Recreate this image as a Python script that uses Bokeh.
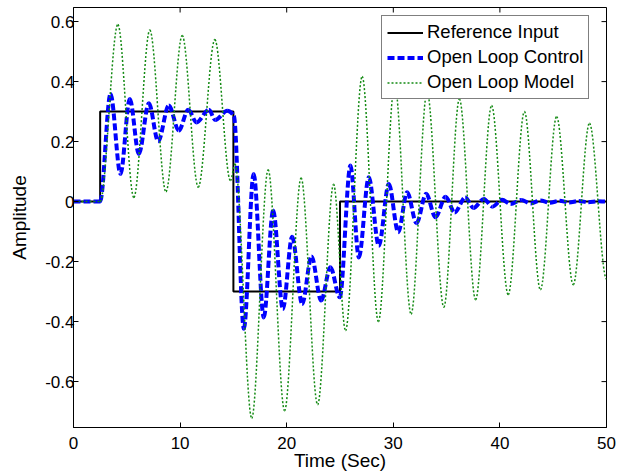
import numpy as np
from bokeh.plotting import figure
from bokeh.models import Range1d, FixedTicker, Legend, LegendItem, ColumnDataSource
from bokeh.embed import file_html
from bokeh.resources import INLINE

# ---------------- data ----------------
x_ticks = [0, 10, 20, 30, 40, 50]
x_tick_labels = ["0", "10", "20", "30", "40", "50"]
y_ticks = [-0.6, -0.4, -0.2, 0, 0.2, 0.4, 0.6]
y_tick_labels = ["-0.6", "-0.4", "-0.2", "0", "0.2", "0.4", "0.6"]

# Reference input (step levels, held from each time onward)
ref_t = [0, 2.5, 15, 25, 50]
ref_y = [0, 0.3, -0.3, 0, 0]

# Open Loop Control: turning points
ctrl_t = [0, 2.5, 3.47, 4.41, 5.28, 6.13, 7.07, 7.94, 8.94, 9.88, 10.76, 11.54,
          12.7, 13.3, 14.42, 15.05, 15.98, 16.9, 17.85, 18.73, 19.64, 20.51,
          21.45, 22.33, 23.23, 24.1, 24.98, 25.98, 26.77, 27.7, 28.64, 29.58,
          30.46, 31.3, 32.18, 33.08, 33.96, 34.9, 35.76, 36.75, 37.52, 38.5,
          39.3, 40.2, 41.0, 42.0, 42.9, 43.8, 44.7, 45.6, 46.5, 47.4, 48.3,
          49.2, 50]
ctrl_y = [0, 0, 0.359, 0.092, 0.342, 0.159, 0.328, 0.201, 0.320, 0.237, 0.306,
          0.264, 0.306, 0.272, 0.303, 0.285, -0.424, 0.092, -0.386, -0.03,
          -0.358, -0.117, -0.341, -0.183, -0.33, -0.219, -0.319, 0.12, -0.186,
          0.081, -0.147, 0.059, -0.102, 0.031, -0.072, 0.026, -0.052, 0.016,
          -0.036, 0.014, -0.021, 0.009, -0.017, 0.006, -0.008, 0.005, -0.006,
          0.004, -0.004, 0.003, -0.003, 0.002, -0.002, 0.001, 0]

# Open Loop Model: turning points
model_t = [0, 2.5, 4.16, 5.66, 7.16, 8.67, 10.2, 11.7, 13.26, 14.72, 15.15,
           16.72, 18.26, 19.8, 21.35, 22.9, 24.4, 25.52, 27.08, 28.6, 30.13,
           31.67, 33.17, 34.74, 36.2, 37.72, 39.22, 40.78, 42.3, 43.8, 45.32,
           46.88, 48.4, 50]
model_y = [0, 0, 0.59, 0.014, 0.572, 0.033, 0.554, 0.048, 0.54, 0.07, 0.125,
           -0.722, 0.106, -0.697, 0.079, -0.677, 0.058, -0.43, 0.417, -0.40,
           0.392, -0.375, 0.366, -0.352, 0.342, -0.327, 0.32, -0.31, 0.30,
           -0.294, 0.283, -0.277, 0.261, -0.258]

FONT = "Liberation Sans"
X0, X1 = 0, 50
Y0, Y1 = -0.753, 0.647
W, H = 636, 476
BL, BR, BT, BB = 73, 30, 7, 49          # borders -> frame 73..606 x 7..427
FW, FH = W - BL - BR, H - BT - BB


def bezier_source(t, y):
    """Smooth Bezier segments through the read turning points (flat tangents at extrema)."""
    t = np.asarray(t, float)
    y = np.asarray(y, float)
    n = len(t)
    d = np.diff(y) / np.diff(t)
    m = np.zeros(n)
    for i in range(1, n - 1):
        if d[i - 1] * d[i] > 0:
            m[i] = 2 * d[i - 1] * d[i] / (d[i - 1] + d[i])
    dt = np.diff(t)
    return ColumnDataSource(dict(
        x0=t[:-1], y0=y[:-1], x1=t[1:], y1=y[1:],
        cx0=t[:-1] + dt / 3, cy0=y[:-1] + m[:-1] * dt / 3,
        cx1=t[1:] - dt / 3, cy1=y[1:] - m[1:] * dt / 3))


p = figure(width=W, height=H, output_backend="svg", toolbar_location=None,
           x_range=Range1d(X0, X1), y_range=Range1d(Y0, Y1),
           min_border_left=BL, min_border_right=BR, min_border_top=BT,
           min_border_bottom=BB,
           background_fill_color="white", border_fill_color="white")
p.grid.visible = False
p.outline_line_color = "black"
p.outline_line_width = 1


def style_axis(ax, ticks, labels):
    ax.ticker = FixedTicker(ticks=ticks)
    ax.major_tick_in = 5
    ax.major_tick_out = 0
    ax.minor_tick_in = 0
    ax.minor_tick_out = 0
    ax.axis_line_color = "black"
    ax.axis_line_width = 1
    ax.major_tick_line_color = "black"
    ax.major_tick_line_width = 1
    ax.major_label_overrides = {k: v for k, v in zip(ticks, labels)}
    ax.major_label_text_font = FONT
    ax.major_label_text_font_size = "17px"
    ax.major_label_text_color = "black"


xa = p.xaxis[0]
style_axis(xa, x_ticks, x_tick_labels)
xa.major_label_standoff = 9
xa.axis_label = "Time (Sec)"
xa.axis_label_text_font = FONT
xa.axis_label_text_font_style = "normal"
xa.axis_label_text_font_size = "19px"
xa.axis_label_text_color = "black"
xa.axis_label_standoff = -2

ya = p.yaxis[0]
style_axis(ya, y_ticks, y_tick_labels)
ya.major_label_standoff = -1
ya.axis_label = "Amplitude"
ya.axis_label_text_font = FONT
ya.axis_label_text_font_style = "normal"
ya.axis_label_text_font_size = "19px"
ya.axis_label_text_color = "black"
ya.axis_label_standoff = 12

# inward tick marks on the top and right edges of the box (5 px long)
tick_dy = 5 * (Y1 - Y0) / FH
tick_dx = 5 * (X1 - X0) / FW
p.segment(x0=x_ticks, x1=x_ticks, y0=[Y1] * len(x_ticks),
          y1=[Y1 - tick_dy] * len(x_ticks), line_color="black", line_width=1)
p.segment(x0=[X1] * len(y_ticks), x1=[X1 - tick_dx] * len(y_ticks),
          y0=y_ticks, y1=y_ticks, line_color="black", line_width=1)

r_ref = p.step(ref_t, ref_y, mode="after", line_color="black", line_width=2)
r_ctrl = p.bezier(x0="x0", y0="y0", x1="x1", y1="y1", cx0="cx0", cy0="cy0",
                  cx1="cx1", cy1="cy1", source=bezier_source(ctrl_t, ctrl_y),
                  line_color="#0000ff", line_width=4, line_dash="7 3")
r_model = p.bezier(x0="x0", y0="y0", x1="x1", y1="y1", cx0="cx0", cy0="cy0",
                   cx1="cx1", cy1="cy1", source=bezier_source(model_t, model_y),
                   line_color="#138a13", line_width=1.5, line_dash="2 2")

legend = Legend(items=[
    LegendItem(label="Reference Input", renderers=[r_ref]),
    LegendItem(label="Open Loop Control", renderers=[r_ctrl]),
    LegendItem(label="Open Loop Model", renderers=[r_model]),
], location=(308, FH - 92))
legend.label_text_font = FONT
legend.label_text_font_size = "18.5px"
legend.label_text_color = "black"
legend.glyph_width = 36
legend.glyph_height = 21
legend.label_height = 21
legend.label_standoff = 4
legend.spacing = 3
legend.padding = 5
legend.margin = 0
legend.border_line_color = "black"
legend.border_line_width = 1
legend.background_fill_color = "white"
legend.background_fill_alpha = 1.0
p.add_layout(legend)

open("out.html", "w").write(file_html(p, INLINE))
